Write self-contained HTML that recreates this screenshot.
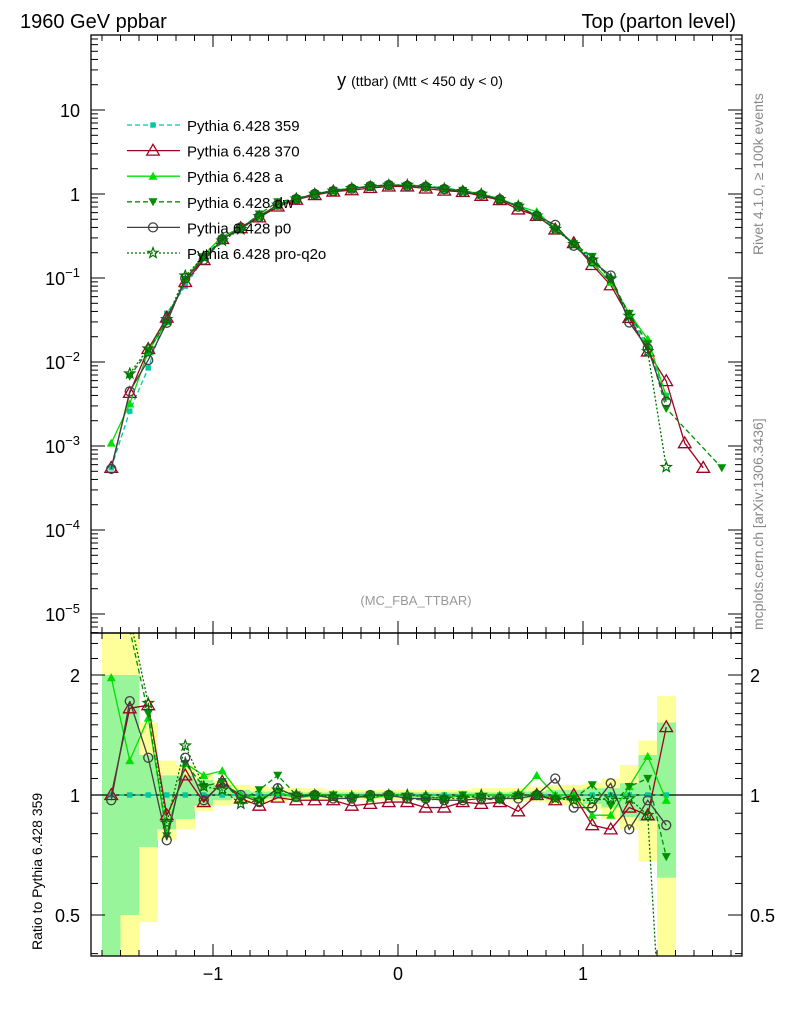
<!DOCTYPE html>
<html><head><meta charset="utf-8"><style>
html,body{margin:0;padding:0;background:#fff;width:786px;height:1024px;overflow:hidden;}
svg{display:block;font-family:"Liberation Sans",sans-serif;}
</style></head><body>
<svg id="chart" width="786" height="1024" viewBox="0 0 786 1024">
<defs>
<clipPath id="cm"><rect x="91" y="35" width="651" height="598"/></clipPath>
<clipPath id="cr"><rect x="91" y="633" width="651" height="323"/></clipPath>
</defs>
<g id="bands" clip-path="url(#cr)"></g>
<g id="mainMarks" clip-path="url(#cm)"></g>
<g id="ratioMarks" clip-path="url(#cr)"></g>
<g id="axes"></g>
<text x="20" y="28" font-size="20">1960 GeV ppbar</text>
<text x="736" y="28" font-size="20" text-anchor="end">Top (parton level)</text>
<text x="420" y="86" font-size="18" text-anchor="middle">y <tspan font-size="14">(ttbar) (Mtt &lt; 450 dy &lt; 0)</tspan></text>
<text x="416" y="605" font-size="13" fill="#999" text-anchor="middle">(MC_FBA_TTBAR)</text>
<text transform="translate(763,255) rotate(-90)" font-size="14" fill="#888">Rivet 4.1.0, ≥ 100k events</text>
<text transform="translate(763,630) rotate(-90)" font-size="14" fill="#888">mcplots.cern.ch [arXiv:1306.3436]</text>
<text transform="translate(42,950) rotate(-90)" font-size="14">Ratio to Pythia 6.428 359</text>
<g id="legend"></g>
</svg>
<script>
const binCenters=[-1.55,-1.45,-1.35,-1.25,-1.15,-1.05,-0.95,-0.85,-0.75,-0.65,-0.55,-0.45,-0.35,-0.25,-0.15,-0.05,0.05,0.15,0.25,0.35,0.45,0.55,0.65,0.75,0.85,0.95,1.05,1.15,1.25,1.35,1.45,1.55,1.65,1.75];
const refValues=[5.5e-4,2.6e-3,8.5e-3,3.8e-2,8e-2,0.17,0.27,0.4,0.56,0.72,0.88,1.0,1.1,1.18,1.24,1.28,1.28,1.25,1.18,1.1,1.0,0.88,0.72,0.55,0.39,0.26,0.17,0.1,0.036,0.015,4e-3,1.8e-3,1e-3,5.5e-4];
const ratio359=[1,1,1,1,1,1,1,1,1,1,1,1,1,1,1,1,1,1,1,1,1,1,1,1,1,1,1,1,1,1,1,null,null,null];
const ratio370=[1.0,1.65,1.68,0.89,1.12,0.96,1.08,0.98,0.94,0.985,0.97,0.97,0.97,0.94,0.95,0.96,0.96,0.93,0.93,0.96,0.95,0.96,0.91,1.0,0.97,1.0,0.84,0.82,0.93,0.89,1.48,0.6,0.55,null];
const ratioA=[1.97,1.22,1.56,0.8,1.2,1.12,1.15,1.0,0.98,1.02,0.98,1.0,1.0,1.0,0.98,1.0,1.0,0.99,0.98,1.0,1.0,1.0,1.0,1.12,1.0,1.0,0.89,0.89,1.05,1.25,0.97,null,null,null];
const ratioDw=[null,2.6,1.6,0.79,1.2,1.05,1.08,0.97,1.03,1.12,1.0,1.0,1.0,0.98,1.0,1.0,0.98,0.97,0.98,1.0,0.98,0.97,1.0,1.0,0.98,0.98,1.06,0.94,1.05,1.1,0.7,null,null,1.0];
const ratioP0=[0.97,1.72,1.24,0.77,1.24,0.97,1.07,1.0,0.96,1.04,0.99,1.0,0.98,0.98,1.0,1.0,0.98,0.98,0.97,0.97,0.98,0.98,0.98,1.0,1.1,0.93,0.93,1.07,0.82,0.97,0.84,null,null,null];
const ratioPq=[null,2.8,1.7,0.85,1.33,1.05,1.03,0.95,0.97,1.03,1.0,1.0,0.99,0.99,0.99,1.0,1.0,0.99,0.98,0.98,1.0,0.98,1.0,1.0,0.98,0.97,0.97,0.98,0.98,0.89,0.14,null,null,null];
const yellowLo=[0.3,0.3,0.48,0.77,0.82,0.91,0.94,0.95,0.96,0.96,0.97,0.97,0.97,0.97,0.97,0.97,0.97,0.97,0.97,0.97,0.97,0.97,0.96,0.96,0.95,0.94,0.92,0.87,0.82,0.68,0.3];
const yellowHi=[2.55,2.55,1.52,1.22,1.19,1.13,1.09,1.06,1.05,1.04,1.04,1.04,1.03,1.03,1.03,1.03,1.03,1.03,1.03,1.03,1.04,1.04,1.04,1.05,1.06,1.06,1.07,1.1,1.19,1.37,1.77];
const greenLo=[0.3,0.5,0.74,0.82,0.87,0.94,0.97,0.98,0.98,0.98,0.985,0.985,0.985,0.985,0.985,0.985,0.985,0.985,0.985,0.985,0.985,0.985,0.98,0.98,0.97,0.97,0.95,0.93,0.88,0.86,0.62];
const greenHi=[2.0,2.0,1.26,1.12,1.12,1.09,1.06,1.03,1.02,1.02,1.015,1.015,1.015,1.015,1.015,1.015,1.015,1.015,1.015,1.015,1.015,1.015,1.02,1.02,1.03,1.03,1.04,1.04,1.07,1.26,1.52];
const xTicks=[-1,0,1];
const xTickLabels=["−1","0","1"];
const mainTicks=[-5,-4,-3,-2,-1,0,1];
const mainTickLabels=["10^-5","10^-4","10^-3","10^-2","10^-1","1","10"];
const ratioTicks=[0.5,1,2];
const ratioTickLabels=["0.5","1","2"];
const seriesNames=["Pythia 6.428 359","Pythia 6.428 370","Pythia 6.428 a","Pythia 6.428 dw","Pythia 6.428 p0","Pythia 6.428 pro-q2o"];

const NS="http://www.w3.org/2000/svg";
const X0=91,X1=742,MT=35,MB=633,RT=633,RB=956;
const xS=v=>398+185*v;
const yM=v=>194-84*Math.log10(v);
const yR=v=>795-120*Math.log2(v);
function mk(tag,attrs,parent){const e=document.createElementNS(NS,tag);for(const k in attrs)e.setAttribute(k,attrs[k]);parent.appendChild(e);return e;}

const styles=[
 {c:"#00c8a0",dash:"5,3",m:"sq",r:ratio359,name:"series-359"},
 {c:"#a00020",dash:"",m:"tri-open",r:ratio370,name:"series-370"},
 {c:"#00e000",dash:"",m:"tri",r:ratioA,name:"series-a"},
 {c:"#009000",dash:"5,3",m:"itri",r:ratioDw,name:"series-dw"},
 {c:"#404040",dash:"",m:"circ",r:ratioP0,name:"series-p0"},
 {c:"#007000",dash:"2,2",m:"star",r:ratioPq,name:"series-pro-q2o"}
];
function marker(g,type,x,y,c,s){
 s=s||1;let e;
 if(type==="sq")e=mk("rect",{x:x-3*s,y:y-3*s,width:6*s,height:6*s,fill:c},g);
 else if(type==="tri-open")e=mk("polygon",{points:`${x},${y-7*s} ${x-7*s},${y+5*s} ${x+7*s},${y+5*s}`,fill:"none",stroke:c,"stroke-width":1.3},g);
 else if(type==="tri")e=mk("polygon",{points:`${x},${y-5*s} ${x-5*s},${y+4*s} ${x+5*s},${y+4*s}`,fill:c},g);
 else if(type==="itri")e=mk("polygon",{points:`${x},${y+5*s} ${x-5*s},${y-4*s} ${x+5*s},${y-4*s}`,fill:c},g);
 else if(type==="circ")e=mk("circle",{cx:x,cy:y,r:5*s,fill:"none",stroke:c,"stroke-width":1.3},g);
 else {let p=[];for(let i=0;i<10;i++){const a=-Math.PI/2+i*Math.PI/5,rr=i%2?2.5*s:6*s;p.push((x+rr*Math.cos(a)).toFixed(1)+","+(y+rr*Math.sin(a)).toFixed(1));}
  e=mk("polygon",{points:p.join(" "),fill:"none",stroke:c,"stroke-width":1.2},g);}
 return e;
}
// bands
const bands=document.getElementById("bands");
const bw=185*0.1;
for(let i=0;i<yellowLo.length;i++){
 const x=xS(binCenters[i])-bw/2;
 const yb=mk("rect",{x:x,y:yR(yellowHi[i]),width:bw+0.5,height:yR(yellowLo[i])-yR(yellowHi[i]),fill:"#ffff99"},bands);
 
 
 const gb=mk("rect",{x:x,y:yR(greenHi[i]),width:bw+0.5,height:yR(greenLo[i])-yR(greenHi[i]),fill:"#99f599"},bands);
 
 
}
const ul=mk("line",{x1:X0,x2:X1,y1:yR(1),y2:yR(1),stroke:"#000","stroke-width":1.2},bands);



const mainG=document.getElementById("mainMarks"),ratG=document.getElementById("ratioMarks");
styles.forEach((st,si)=>{
 const gm=mk("g",{},mainG);
 
 
 const gr=mk("g",{},ratG);
 
 
 let pm=[],pr=[];
 binCenters.forEach((xv,i)=>{
  const r=st.r[i]; if(r==null)return;
  const v=refValues[i]*r;
  pm.push([xS(xv),yM(v)]);
  if(ratio359[i]!=null)pr.push([xS(xv),yR(r)]);
 });
 const attr={fill:"none",stroke:st.c,"stroke-width":1.3};
 if(st.dash)attr["stroke-dasharray"]=st.dash;
 const lm=mk("polyline",Object.assign({points:pm.map(p=>p.join(",")).join(" ")},attr),gm);
 
 
 const lr=mk("polyline",Object.assign({points:pr.map(p=>p.join(",")).join(" ")},attr),gr);
 
 
 pm.forEach(p=>{const e=marker(gm,st.m,p[0],p[1],st.c,0.9);
  
  });
 pr.forEach(p=>{const e=marker(gr,st.m,p[0],p[1],st.c,0.9);
  
  });
});
// axes
const ax=document.getElementById("axes");
mk("rect",{x:X0,y:MT,width:X1-X0,height:MB-MT,fill:"none",stroke:"#000","stroke-width":1.3},ax);
mk("rect",{x:X0,y:RT,width:X1-X0,height:RB-RT,fill:"none",stroke:"#000","stroke-width":1.3},ax);
function tick(x1,y1,x2,y2){mk("line",{x1,y1,x2,y2,stroke:"#000","stroke-width":1},ax);}
for(let v=-1.6;v<=1.85;v+=0.1){const x=xS(+v.toFixed(2));if(x<X0||x>X1)continue;
 const maj=Math.abs(v-Math.round(v))<0.01;const L=maj?12:6;
 tick(x,MB,x,MB-L);tick(x,MT,x,MT+L);tick(x,RB,x,RB-L);tick(x,RT,x,RT+L);}
xTicks.forEach((v,i)=>{const t=mk("text",{x:xS(v),y:980,"font-size":18,"text-anchor":"middle"},ax);t.textContent=xTickLabels[i];
 
 });
mainTicks.forEach((d,i)=>{const y=yM(Math.pow(10,d));
 tick(X0,y,X0+14,y);tick(X1,y,X1-14,y);
 for(let k=2;k<10;k++){const ym=yM(k*Math.pow(10,d));if(ym>MT&&ym<MB){tick(X0,ym,X0+7,ym);tick(X1,ym,X1-7,ym);}}
 const lab=mainTickLabels[i];const t=mk("text",{x:80,y:y+7,"font-size":18,"text-anchor":"end"},ax);
 if(lab.startsWith("10^")){t.textContent="10";const s=mk("tspan",{dy:-8,"font-size":13},t);s.textContent=lab.slice(3).replace("-","−");}
 else t.textContent=lab;
 
 
});
for(let k=2;k<10;k++){const ym=yM(k*1e-6);if(ym>MT&&ym<MB){tick(X0,ym,X0+7,ym);tick(X1,ym,X1-7,ym);}}
[0.4,0.5,0.6,0.7,0.8,0.9,1,1.1,1.2,1.3,1.4,1.5,1.6,1.7,1.8,1.9,2,2.2,2.4].forEach(v=>{const y=yR(v);if(y<RT||y>RB)return;
 const maj=ratioTicks.includes(v);const L=maj?14:7;tick(X0,y,X0+L,y);tick(X1,y,X1-L,y);});
ratioTicks.forEach((v,i)=>{const y=yR(v);
 const t=mk("text",{x:80,y:y+7,"font-size":18,"text-anchor":"end"},ax);t.textContent=ratioTickLabels[i];
 
 
 const t2=mk("text",{x:750,y:y+7,"font-size":18},ax);t2.textContent=ratioTickLabels[i];
 
 });
const lg=document.getElementById("legend");
styles.forEach((st,i)=>{const y=125+25.6*i;
 const g=mk("g",{},lg);
 
 
 const a={x1:127,x2:180,y1:y,y2:y,stroke:st.c,"stroke-width":1.3};if(st.dash)a["stroke-dasharray"]=st.dash;
 mk("line",a,g);marker(g,st.m,153,y,st.c,0.9);
 const t=mk("text",{x:187,y:y+6,"font-size":15},g);t.textContent=seriesNames[i];});
</script>
</body></html>
